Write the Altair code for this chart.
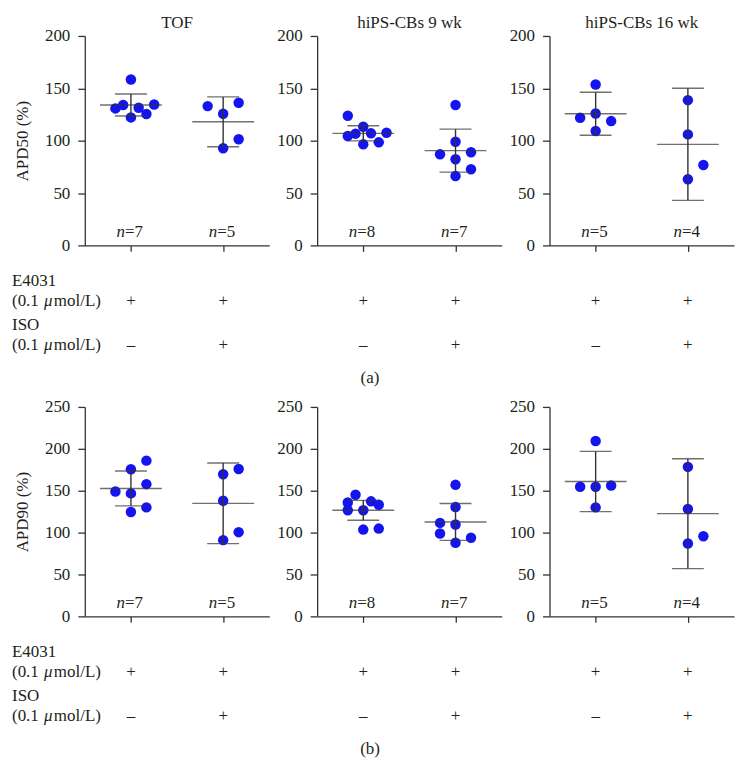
import altair as alt
import pandas as pd

FONT = "Liberation Serif"
FS = 17
TXT = "#231f20"
BLUE = "#1414f0"
BAR = "#333333"
W = 185
H = 210
SLOT = 0.084  # horizontal spacing of one swarm slot, in group units

groups = ["TOF", "hiPS-CBs 9 wk", "hiPS-CBs 16 wk"]
n_labels = [["=7", "=5"], ["=8", "=7"], ["=5", "=4"]]
e4031_signs = ["+", "+"]
iso_signs = ["–", "+"]

# ---------- APD50 (%) : values and swarm slots ----------
apd50_tof_ctrl = [158.4, 130.8, 134.0, 131.4, 134.6, 122.2, 125.4]
apd50_tof_ctrl_slot = [0, -2, -1, 1, 3, 0, 2]
apd50_tof_iso = [133.0, 125.7, 136.2, 101.3, 92.7]
apd50_tof_iso_slot = [-2, 0, 2, 2, 0]
apd50_9wk_ctrl = [123.8, 104.4, 106.7, 113.3, 96.5, 107.0, 98.4, 107.6]
apd50_9wk_ctrl_slot = [-2, -2, -1, 0, 0, 1, 2, 3]
apd50_9wk_iso = [134.0, 99.0, 87.0, 88.9, 82.2, 72.7, 66.3]
apd50_9wk_iso_slot = [0, 0, -2, 2, 0, 2, 0]
apd50_16wk_ctrl = [153.7, 121.9, 126.0, 118.7, 109.2]
apd50_16wk_ctrl_slot = [0, -2, 0, 2, 0]
apd50_16wk_iso = [138.7, 106.0, 76.8, 63.2]
apd50_16wk_iso_slot = [0, 0, 2, 0]
apd50_mean = [[134.0, 118.0], [107.0, 90.5], [125.7, 96.5]]
apd50_sd = [[10.5, 23.8], [7.2, 20.5], [20.5, 53.5]]

# ---------- APD90 (%) ----------
apd90_tof_ctrl = [185.9, 175.6, 157.8, 149.1, 146.8, 130.1, 124.6]
apd90_tof_ctrl_slot = [2, 0, 2, -2, 0, 2, 0]
apd90_tof_iso = [176.0, 169.7, 138.0, 100.5, 91.0]
apd90_tof_iso_slot = [2, 0, 0, 2, 0]
apd90_9wk_ctrl = [145.2, 136.0, 126.6, 126.6, 137.3, 133.3, 103.6, 104.8]
apd90_9wk_ctrl_slot = [-1, -2, -2, 0, 1, 2, 0, 2]
apd90_9wk_iso = [157.0, 130.5, 111.6, 109.6, 98.9, 93.8, 87.8]
apd90_9wk_iso_slot = [0, 0, -2, 0, -2, 2, 0]
apd90_16wk_ctrl = [209.3, 154.7, 154.7, 156.2, 130.1]
apd90_16wk_ctrl_slot = [0, -2, 0, 2, 0]
apd90_16wk_iso = [178.4, 128.2, 95.7, 87.0]
apd90_16wk_iso_slot = [0, 0, 2, 0]
apd90_mean = [[152.7, 134.9], [126.6, 112.7], [161.0, 122.6]]
apd90_sd = [[20.8, 48.1], [11.9, 22.0], [36.0, 65.6]]


def panel(ctrl, ctrl_slot, iso, iso_slot, mean, sd, nlab, ymax, ytitle,
          title=None, first=False, letter=None):
    pts = pd.DataFrame({
        "cond": [1] * len(ctrl) + [2] * len(iso),
        "slot": list(ctrl_slot) + list(iso_slot),
        "value": list(ctrl) + list(iso),
    })
    stats = pd.DataFrame({
        "cond": [1, 2], "mean": mean, "sd": sd, "n": nlab,
        "e4031": e4031_signs, "iso": iso_signs,
    })
    xs = alt.Scale(domain=[0.5, 2.5], nice=False, zero=False)
    ys = alt.Scale(domain=[0, ymax], nice=False)
    yaxis = alt.Axis(values=list(range(0, ymax + 1, 50)), title=ytitle if first else "",
                     titlePadding=13)
    xaxis = alt.Axis(values=[1, 2], labels=False, title="", tickSize=6)

    points = alt.Chart(pts).transform_calculate(
        xpos=f"datum.cond + datum.slot * {SLOT}"
    ).mark_circle(size=110, color=BLUE, opacity=1).encode(
        x=alt.X("xpos:Q", scale=xs, axis=xaxis),
        y=alt.Y("value:Q", scale=ys, axis=yaxis),
    )
    sb = alt.Chart(stats).transform_calculate(
        lo="datum.mean - datum.sd", hi="datum.mean + datum.sd"
    )
    xenc = alt.X("cond:Q", scale=xs, axis=xaxis)
    def yenc(f):
        return alt.Y(f, scale=ys, axis=yaxis)
    vline = sb.mark_rule(color=BAR, strokeWidth=1.4).encode(
        x=xenc, y=yenc("lo:Q"), y2="hi:Q")
    meanline = sb.mark_tick(orient="horizontal", size=62, thickness=1.4, color=BAR).encode(
        x=xenc, y=yenc("mean:Q"))
    capl = sb.mark_tick(orient="horizontal", size=32, thickness=1.4, color=BAR).encode(
        x=xenc, y=yenc("lo:Q"))
    caph = sb.mark_tick(orient="horizontal", size=32, thickness=1.4, color=BAR).encode(
        x=xenc, y=yenc("hi:Q"))
    tstyle = dict(font=FONT, fontSize=FS, color=TXT)
    n_it = sb.mark_text(align="right", dx=-6, baseline="alphabetic", fontStyle="italic", **tstyle).encode(
        x=xenc, y=alt.value(H - 8), text=alt.value("n"))
    n_rest = sb.mark_text(align="left", dx=-6, baseline="alphabetic", **tstyle).encode(
        x=xenc, y=alt.value(H - 8), text="n:N")
    row1 = sb.mark_text(baseline="middle", **tstyle).encode(
        x=xenc, y=alt.value(H + 56), text="e4031:N")
    row2 = sb.mark_text(baseline="middle", **tstyle).encode(
        x=xenc, y=alt.value(H + 100), text="iso:N")
    layers = [points, vline, meanline, capl, caph, n_it, n_rest, row1, row2]

    if first:
        lab = pd.DataFrame({"t": ["x"]})
        lb = alt.Chart(lab)
        X0 = -73
        def lt(text, dx, dy, italic=False):
            kw = dict(tstyle)
            if italic:
                kw["fontStyle"] = "italic"
            return lb.mark_text(align="left", baseline="middle", **kw).encode(
                x=alt.value(X0 + dx), y=alt.value(H + dy), text=alt.value(text))
        for dy in (56, 100):
            layers += [lt("(0.1", 0, dy), lt("μ", 32, dy, True), lt("mol/L)", 42, dy)]
        layers += [lt("E4031", 0, 36), lt("ISO", 0, 80)]
    if letter:
        layers.append(alt.Chart(pd.DataFrame({"t": [letter]})).mark_text(
            align="center", baseline="middle", **tstyle).encode(
            x=alt.value(53), y=alt.value(H + 133), text="t:N"))

    props = dict(width=W, height=H)
    if title:
        props["title"] = alt.TitleParams(title, font=FONT, fontSize=FS, fontWeight="normal",
                                         color=TXT, offset=-5)
    return alt.layer(*layers).properties(**props)


top = alt.hconcat(
    panel(apd50_tof_ctrl, apd50_tof_ctrl_slot, apd50_tof_iso, apd50_tof_iso_slot,
          apd50_mean[0], apd50_sd[0], n_labels[0], 200, "APD50 (%)", groups[0], first=True),
    panel(apd50_9wk_ctrl, apd50_9wk_ctrl_slot, apd50_9wk_iso, apd50_9wk_iso_slot,
          apd50_mean[1], apd50_sd[1], n_labels[1], 200, "APD50 (%)", groups[1], letter="(a)"),
    panel(apd50_16wk_ctrl, apd50_16wk_ctrl_slot, apd50_16wk_iso, apd50_16wk_iso_slot,
          apd50_mean[2], apd50_sd[2], n_labels[2], 200, "APD50 (%)", groups[2]),
    spacing=7,
)
bottom = alt.hconcat(
    panel(apd90_tof_ctrl, apd90_tof_ctrl_slot, apd90_tof_iso, apd90_tof_iso_slot,
          apd90_mean[0], apd90_sd[0], n_labels[0], 250, "APD90 (%)", first=True),
    panel(apd90_9wk_ctrl, apd90_9wk_ctrl_slot, apd90_9wk_iso, apd90_9wk_iso_slot,
          apd90_mean[1], apd90_sd[1], n_labels[1], 250, "APD90 (%)", letter="(b)"),
    panel(apd90_16wk_ctrl, apd90_16wk_ctrl_slot, apd90_16wk_iso, apd90_16wk_iso_slot,
          apd90_mean[2], apd90_sd[2], n_labels[2], 250, "APD90 (%)"),
    spacing=7,
)

chart = alt.vconcat(top, bottom, spacing=12).properties(
    padding={"left": 4, "top": 5, "right": 4, "bottom": 4},
    background="white",
).configure_view(stroke=None).configure_axis(
    domainColor=BAR, domainWidth=1.3, tickColor=BAR, tickWidth=1.3, tickSize=7,
    labelFont=FONT, labelFontSize=FS, labelColor=TXT, labelPadding=8, grid=False,
    titleFont=FONT, titleFontSize=FS, titleFontWeight="normal", titleColor=TXT,
)

chart.save("out.html", embed_options={"renderer": "svg", "actions": False})
